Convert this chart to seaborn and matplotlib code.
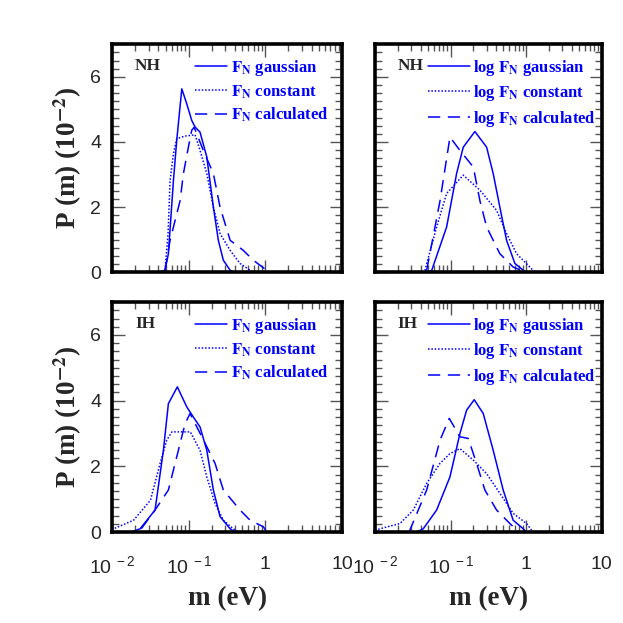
import numpy as np
import pandas as pd
import seaborn as sns
import matplotlib.pyplot as plt
from matplotlib.ticker import MultipleLocator, FixedLocator, FixedFormatter, LogLocator, NullFormatter

sns.set_style('ticks')
plt.rcParams['font.family'] = ['Liberation Sans', 'DejaVu Sans']
plt.rcParams['mathtext.fontset'] = 'stix'

# values: log10(m / eV) and P(m) in units of 1e-2
# NH, F_N
nh_gau_x = [-2.0, -1.4, -1.31, -1.266, -1.20, -1.157, -1.091, -1.026, -0.961, -0.918, -0.853, -0.765, -0.679, -0.614, -0.549, -0.46, -0.40, 1.0]
nh_gau_y = [0.0, 0.0, 0.06, 0.57, 2.82, 4.05, 5.63, 5.17, 4.66, 4.46, 4.30, 3.54, 2.0, 0.98, 0.37, 0.06, 0.0, 0.0]
nh_con_x = [-1.31, -1.27, -1.244, -1.2, -1.157, -1.05, -0.918, -0.853, -0.765, -0.679, -0.592, -0.46, -0.331, -0.2, -0.15]
nh_con_y = [0.06, 1.2, 2.82, 3.64, 4.1, 4.18, 4.22, 3.74, 3.03, 2.0, 1.19, 0.67, 0.27, 0.06, 0.0]
nh_cal_x = [-1.31, -1.244, -1.113, -1.07, -1.005, -0.961, -0.93, -0.81, -0.679, -0.592, -0.46, -0.288, -0.158, 0.017, 0.05]
nh_cal_y = [0.06, 0.98, 2.2, 3.03, 3.84, 4.36, 4.45, 3.74, 3.03, 2.0, 0.98, 0.67, 0.37, 0.06, 0.0]
# NH, log F_N
nhl_gau_x = [-1.30, -1.25, -1.053, -0.921, -0.833, -0.679, -0.524, -0.437, -0.349, -0.26, -0.15, -0.04, 0.0]
nhl_gau_y = [0.0, 0.06, 1.39, 3.03, 3.84, 4.32, 3.84, 3.03, 2.0, 0.98, 0.27, 0.06, 0.0]
nhl_con_x = [-1.38, -1.34, -1.185, -1.053, -0.833, -0.613, -0.392, -0.26, -0.128, 0.09, 0.12]
nhl_con_y = [0.0, 0.06, 1.39, 2.42, 2.98, 2.52, 1.90, 1.19, 0.57, 0.06, 0.0]
nhl_cal_x = [-1.317, -1.14, -1.009, -0.877, -0.70, -0.613, -0.524, -0.349, -0.173, -0.04, 0.0]
nhl_cal_y = [0.06, 2.2, 4.15, 3.74, 3.23, 2.2, 1.39, 0.57, 0.16, 0.03, 0.0]
# IH, F_N
ih_gau_x = [-1.75, -1.635, -1.44, -1.331, -1.266, -1.149, -1.026, -0.94, -0.853, -0.765, -0.679, -0.592, -0.46, -0.40]
ih_gau_y = [0.0, 0.1, 0.67, 2.49, 3.91, 4.42, 3.81, 3.5, 3.2, 2.49, 1.28, 0.47, 0.1, 0.0]
ih_con_x = [-2.0, -1.98, -1.72, -1.50, -1.374, -1.287, -1.22, -0.98, -0.853, -0.765, -0.657, -0.549, -0.42, -0.35]
ih_con_y = [0.05, 0.1, 0.36, 0.97, 2.09, 2.8, 3.05, 3.05, 2.49, 1.68, 0.87, 0.36, 0.1, 0.0]
ih_cal_x = [-1.62, -1.44, -1.266, -1.157, -1.048, -0.983, -0.765, -0.657, -0.549, -0.331, -0.2, -0.027, 0.02]
ih_cal_y = [0.1, 0.67, 1.28, 2.29, 3.3, 3.61, 2.6, 2.09, 1.28, 0.67, 0.36, 0.16, 0.0]
# IH, log F_N
ihl_gau_x = [-1.45, -1.362, -1.185, -1.009, -0.877, -0.789, -0.688, -0.569, -0.437, -0.305, -0.173, -0.04, 0.0]
ihl_gau_y = [0.0, 0.1, 0.67, 1.68, 3.0, 3.71, 4.03, 3.61, 2.49, 1.28, 0.36, 0.1, 0.0]
ihl_con_x = [-2.0, -1.934, -1.67, -1.494, -1.317, -1.141, -1.009, -0.877, -0.70, -0.524, -0.349, -0.173, 0.004, 0.09]
ihl_con_y = [0.05, 0.1, 0.26, 0.67, 1.48, 2.09, 2.39, 2.54, 2.19, 1.78, 1.18, 0.57, 0.26, 0.0]
ihl_cal_x = [-1.55, -1.317, -1.14, -1.018, -0.877, -0.767, -0.657, -0.547, -0.392, -0.217, -0.10]
ihl_cal_y = [0.0, 1.28, 2.8, 3.46, 2.9, 2.85, 2.09, 1.28, 0.67, 0.26, 0.0]

panels = [
    ('NH', [(nh_gau_x, nh_gau_y), (nh_con_x, nh_con_y), (nh_cal_x, nh_cal_y)], ''),
    ('NH', [(nhl_gau_x, nhl_gau_y), (nhl_con_x, nhl_con_y), (nhl_cal_x, nhl_cal_y)], 'log '),
    ('IH', [(ih_gau_x, ih_gau_y), (ih_con_x, ih_con_y), (ih_cal_x, ih_cal_y)], ''),
    ('IH', [(ihl_gau_x, ihl_gau_y), (ihl_con_x, ihl_con_y), (ihl_cal_x, ihl_cal_y)], 'log '),
]
names = ['gaussian', 'constant', 'calculated']
styles = ['-', (0, (1, 1.2)), (0, (8, 5))]

blue = '#0000ff'
fig = plt.figure(figsize=(6.23, 6.23), dpi=100)
rects = [[0.180, 0.563, 0.369, 0.366], [0.602, 0.563, 0.364, 0.366],
         [0.180, 0.146, 0.369, 0.369], [0.602, 0.146, 0.364, 0.369]]

for i, (hier, curves, pre) in enumerate(panels):
    ax = fig.add_axes(rects[i])
    for (xs, ys), nm, ls in zip(curves, names, styles):
        df = pd.DataFrame({'m': 10 ** np.array(xs), 'P': ys})
        sns.lineplot(data=df, x='m', y='P', ax=ax, sort=False, estimator=None,
                     color=blue, linestyle=ls, linewidth=1.1,
                     label=pre + r'$\mathbf{F_N}$ ' + nm)
    ax.set_xscale('log')
    ax.set_xlim(1e-2, 10)
    ax.set_ylim(0, 7)
    ax.yaxis.set_major_locator(FixedLocator([0, 2, 4, 6]))
    ax.yaxis.set_minor_locator(MultipleLocator(0.25))
    ax.xaxis.set_major_locator(FixedLocator([1e-2, 1e-1, 1, 10]))
    ax.xaxis.set_minor_locator(LogLocator(base=10, subs=np.arange(2, 10)))
    ax.xaxis.set_minor_formatter(NullFormatter())
    ax.tick_params(which='both', direction='in', top=True, right=True, width=1.0, color='#555555')
    ax.tick_params(which='major', length=9)
    ax.tick_params(which='minor', length=5)
    ax.tick_params(axis='y', labelsize=14, pad=8)
    ax.tick_params(axis='x', labelsize=14, pad=17)
    for sp in ax.spines.values():
        sp.set_linewidth(2.6)
        sp.set_color('black')
    if i < 2:
        ax.set_xticklabels([])
        ax.set_xlabel('')
    else:
        ax.xaxis.set_major_formatter(FixedFormatter([r'$\mathregular{10^{\ -2}}$', r'$\mathregular{10^{\ -1}}$', '1', '10']))
        ax.set_xlabel('m (eV)', fontsize=19.5, family='Liberation Serif', weight='bold', labelpad=6)
    if i % 2 == 0:
        ax.set_ylabel(r'P (m) (10$^{\mathbf{-2}}$)', fontsize=19.5, family='Liberation Serif', weight='bold', labelpad=4)
    else:
        ax.set_yticklabels([])
        ax.set_ylabel('')
    ax.text(0.10, 0.905, hier, transform=ax.transAxes, fontsize=12.5, family='Liberation Serif',
            weight='bold', va='center', ha='left')
    if i % 2 == 0:
        anchor, hl = (0.36, 0.94), 1.95
    else:
        anchor, hl = (0.233, 0.94), 2.5
    ax.legend(loc='upper left', bbox_to_anchor=anchor, frameon=False, borderpad=0, borderaxespad=0,
              handlelength=hl, handletextpad=0.2, labelspacing=0.32, labelcolor=blue,
              prop={'family': 'Liberation Serif', 'weight': 'bold', 'size': 12})

fig.savefig('out.png', dpi=100)
